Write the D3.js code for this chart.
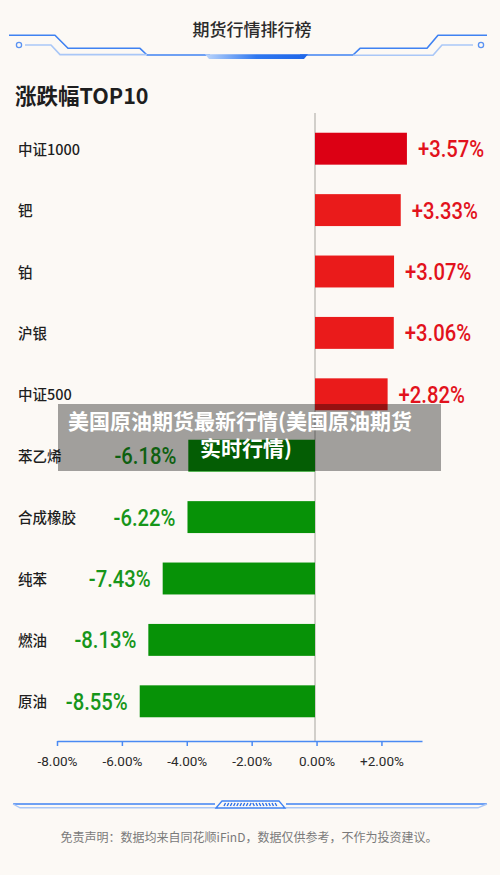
<!DOCTYPE html>
<html>
<head>
<meta charset="utf-8">
<script src="https://cdn.jsdelivr.net/npm/d3@7"></script>
<style>
  html, body { margin: 0; padding: 0; background: #fcf9f5; }
  svg { display: block; }
</style>
</head>
<body>
<div id="chart"></div>
<script>
// ---- data ----
const categories = ["中证1000", "钯", "铂", "沪银", "中证500", "苯乙烯", "合成橡胶", "纯苯", "燃油", "原油"];
const changes = [3.57, 3.33, 3.07, 3.06, 2.82, -6.18, -6.22, -7.43, -8.13, -8.55];
const axisTicks = [-8, -6, -4, -2, 0, 2];
const title = "期货行情排行榜";
const subtitle = "涨跌幅TOP10";
const watermarkLines = ["美国原油期货最新行情(美国原油期货", "实时行情)"];
const disclaimer = "免责声明：数据均来自同花顺iFinD，数据仅供参考，不作为投资建议。";

// ---- setup ----
const W = 500, H = 875;
const svg = d3.select("#chart").append("svg").attr("width", W).attr("height", H);
svg.append("rect").attr("width", W).attr("height", H).attr("fill", "#fcf9f5");

const CJK = "'Noto Sans CJK SC', 'Noto Sans', sans-serif";
const NUM = "Roboto, 'Noto Sans', sans-serif";

const defs = svg.append("defs");
const g1 = defs.append("linearGradient").attr("id", "centerGlow").attr("x1", "0").attr("x2", "1");
g1.append("stop").attr("offset", "0").attr("stop-color", "#bcd6fb");
g1.append("stop").attr("offset", "0.5").attr("stop-color", "#2f78f0");
g1.append("stop").attr("offset", "1").attr("stop-color", "#1f66e8");

// ---- header decoration ----
const deco = svg.append("g").attr("fill", "none").attr("stroke-linejoin", "round");
const dark = "#3f82f2", light = "#a9c7f7";
const line = d3.line();
deco.append("path").attr("stroke", dark).attr("stroke-width", 1.6)
  .attr("d", line([[9,35.3],[55,35.3],[68,48.3],[140,48.3],[147,55],[210,55]]));
deco.append("path").attr("stroke", light).attr("stroke-width", 1.6)
  .attr("d", line([[25,45],[51,45],[60,54.6],[147,54.6]]));
deco.append("circle").attr("cx", 19).attr("cy", 45).attr("r", 2.6).attr("stroke", "#5b93f2").attr("stroke-width", 1.3);
deco.append("path").attr("stroke", dark).attr("stroke-width", 1.6)
  .attr("d", line([[300,55],[353,55],[360,48.3],[427,48.3],[438,35.3],[487,35.3]]));
deco.append("path").attr("stroke", light).attr("stroke-width", 1.6)
  .attr("d", line([[353,55.3],[433,55.3],[442,45],[473,45]]));
deco.append("circle").attr("cx", 481).attr("cy", 45).attr("r", 2.6).attr("stroke", "#5b93f2").attr("stroke-width", 1.3);
deco.append("path").attr("fill", "url(#centerGlow)").attr("stroke", "none")
  .attr("d", "M205,54.3 L308,54.3 L304,59 L209,59 Z");

svg.append("text").attr("x", 252).attr("y", 35.5).attr("text-anchor", "middle")
  .attr("font-family", CJK).attr("font-size", 17).attr("font-weight", 500).attr("fill", "#2b2b2b")
  .text(title);

svg.append("text").attr("x", 15).attr("y", 104).attr("font-family", CJK)
  .attr("font-size", 21.5).attr("font-weight", 700).attr("fill", "#1e1e1e").text(subtitle);

// ---- scales ----
const y = d3.scaleBand().domain(categories).range([118, 732]).paddingInner(0.48).paddingOuter(0.24);
// axis scale (as printed on the ticks)
const xAxisScale = d3.scaleLinear().domain([-8, 3.25]).range([57, 422]);
// bar length scale (the picture draws bars on its own, non-uniform scale)
const xBar = d3.scaleLinear().domain([-10, 0, 4]).range([110, 315, 418]);

const data = categories.map((c, i) => ({ cat: c, v: changes[i], i }));

// zero line
svg.append("line").attr("x1", xBar(0)).attr("x2", xBar(0)).attr("y1", 113).attr("y2", 741)
  .attr("stroke", "#b5b2ad").attr("stroke-width", 1.2);

// bars
const redFirst = "#dc0014", red = "#ea1b1b", green = "#079207";
svg.append("g").selectAll("rect").data(data).join("rect")
  .attr("x", d => Math.min(xBar(0), xBar(d.v)))
  .attr("y", d => y(d.cat))
  .attr("width", d => Math.abs(xBar(d.v) - xBar(0)))
  .attr("height", y.bandwidth())
  .attr("fill", d => d.v >= 0 ? (d.i === 0 ? redFirst : red) : green);

// category labels
svg.append("g").selectAll("text").data(data).join("text")
  .attr("x", 18).attr("y", d => y(d.cat) + y.bandwidth() / 2 + 6)
  .attr("font-family", CJK).attr("font-size", 14.5).attr("font-weight", 500).attr("fill", "#1f1f1f")
  .text(d => d.cat);

// value labels (slightly condensed)
const pct = v => (v > 0 ? "+" : v < 0 ? "-" : "") + d3.format(".2f")(Math.abs(v)) + "%";
svg.append("g").selectAll("text").data(data).join("text")
  .attr("transform", d => `translate(${d.v >= 0 ? xBar(d.v) + 11 : xBar(d.v) - 12},${y(d.cat) + y.bandwidth() / 2 + 8.5}) scale(0.88,1)`)
  .attr("text-anchor", d => d.v >= 0 ? "start" : "end")
  .attr("font-family", NUM).attr("font-size", 23).attr("font-weight", 500)
  .attr("fill", d => d.v >= 0 ? "#e2121c" : "#17961a")
  .text(d => pct(d.v));

// ---- axis ----
const axisG = svg.append("g").attr("transform", "translate(0,741)")
  .call(d3.axisBottom(xAxisScale).tickValues(axisTicks).tickSize(5).tickSizeOuter(0)
    .tickFormat(pct));
axisG.select(".domain").attr("stroke", "#4a8af3").attr("stroke-width", 1.5);
axisG.selectAll(".tick line").attr("stroke", "#4a8af3").attr("stroke-width", 1.5);
axisG.selectAll(".tick text").attr("font-family", NUM).attr("font-size", 13.5)
  .attr("fill", "#2a2a2a").attr("dy", "0").attr("y", 25);

// ---- watermark overlay ----
svg.append("rect").attr("x", 58).attr("y", 404).attr("width", 383).attr("height", 67)
  .attr("fill", "rgba(0,0,0,0.36)");
const wm = svg.append("g").attr("font-family", CJK).attr("font-size", 21).attr("font-weight", 700).attr("fill", "#fff");
wm.append("text").attr("x", 68).attr("y", 429).text(watermarkLines[0]);
wm.append("text").attr("x", 200).attr("y", 456).text(watermarkLines[1]);

// ---- footer decoration ----
const foot = svg.append("g").attr("fill", "none");
foot.append("path").attr("stroke", dark).attr("stroke-width", 1.6)
  .attr("d", line([[13,804],[215,804]]));
foot.append("path").attr("stroke", light).attr("stroke-width", 1.4)
  .attr("d", line([[13,804],[20,807.8],[218,807.8]]));
foot.append("path").attr("stroke", dark).attr("stroke-width", 1.6)
  .attr("d", line([[286,804],[487,804]]));
foot.append("path").attr("stroke", light).attr("stroke-width", 1.4)
  .attr("d", line([[283,807.8],[478,807.8],[487,804]]));
foot.append("path").attr("stroke", dark).attr("stroke-width", 1.3)
  .attr("d", "M216,808 L222,801 L279,801 L285,808 Z");
const stripes = d3.range(224, 278, 3.2);
foot.selectAll("line.st").data(stripes).join("line")
  .attr("stroke", "#2b6fe8").attr("stroke-width", 1.4)
  .attr("x1", d => d < 251 ? d : d + 1.5).attr("x2", d => d < 251 ? d + 1.5 : d)
  .attr("y1", 806).attr("y2", 803);

svg.append("text").attr("x", 249).attr("y", 841.5).attr("text-anchor", "middle")
  .attr("font-family", CJK).attr("font-size", 12).attr("fill", "#7a7a7a")
  .text(disclaimer);
</script>
</body>
</html>
